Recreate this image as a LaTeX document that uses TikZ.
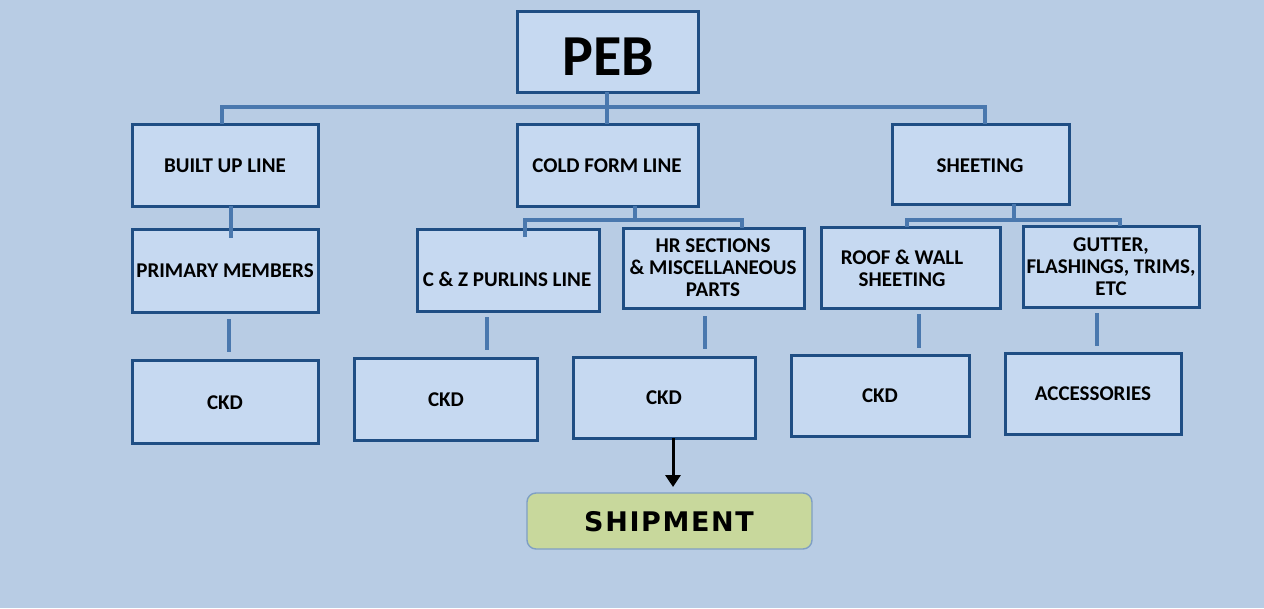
\documentclass[tikz,border=0pt]{standalone}
\usepackage{fontspec}
\setmainfont{Carlito}
\newfontfamily\shipfont{DejaVu Sans}
\usetikzlibrary{arrows.meta}
\definecolor{bgc}{HTML}{B8CCE4}
\definecolor{boxfill}{HTML}{C6D9F1}
\definecolor{boxdraw}{HTML}{1F4E84}
\definecolor{linec}{HTML}{4A78AE}
\definecolor{shipfill}{HTML}{C8D89C}
\definecolor{shipdraw}{HTML}{7F9FC4}
\tikzset{
  box/.style={draw=boxdraw, fill=boxfill, line width=3pt, rectangle, inner sep=0pt},
  txt/.style={font=\bfseries\fontsize{21}{22}\selectfont, align=center, text=black, inner sep=0pt},
  conn/.style={draw=linec, line width=3.1pt},
}
\begin{document}
\begin{tikzpicture}[x=1pt,y=-1pt]
\fill[bgc] (0,0) rectangle (1264,608);
\useasboundingbox (0,0) rectangle (1264,608);

% boxes (centre, width, height)
\node[box, minimum width=181pt, minimum height=81pt] (peb) at (607.5,51.5) {};
\node[font=\bfseries\fontsize{58}{62}\selectfont, inner sep=0pt] (pebt) at (608,57) {PEB};

\node[box, minimum width=186pt, minimum height=82pt] (bul) at (225,165) {};
\node[txt] (bult) at (225,166) {BUILT UP LINE};
\node[box, minimum width=181pt, minimum height=82pt] (cfl) at (607.5,165) {};
\node[txt] (cflt) at (607,166) {COLD FORM LINE};
\node[box, minimum width=177pt, minimum height=80pt] (sht) at (980.5,164) {};
\node[txt] (shtt) at (980,166) {SHEETING};

\node[box, minimum width=186pt, minimum height=83pt] (pm) at (225,270.5) {};
\node[txt] (pmt) at (225,271) {PRIMARY MEMBERS};
\node[box, minimum width=182pt, minimum height=82pt] (cz) at (508,270) {};
\node[txt] (czt) at (507,279) {C \& Z PURLINS LINE};
\node[box, minimum width=181pt, minimum height=80pt] (hr) at (713.5,268) {};
\node[txt] (hrt) at (713,268) {HR SECTIONS\\\& MISCELLANEOUS\\PARTS};
\node[box, minimum width=179pt, minimum height=81pt] (rw) at (910.5,267.5) {};
\node[txt] (rwt) at (902,268.5) {ROOF \& WALL\\SHEETING};
\node[box, minimum width=176pt, minimum height=81pt] (gt) at (1111,266.5) {};
\node[txt] (gtt) at (1111,267) {GUTTER,\\FLASHINGS, TRIMS,\\ETC};

\node[box, minimum width=186pt, minimum height=83pt] (c1) at (225,401.5) {};
\node[txt] (c1t) at (225,403) {CKD};
\node[box, minimum width=183pt, minimum height=82pt] (c2) at (445.5,399) {};
\node[txt] (c2t) at (446,400) {CKD};
\node[box, minimum width=182pt, minimum height=81pt] (c3) at (664,397.5) {};
\node[txt] (c3t) at (664,398) {CKD};
\node[box, minimum width=178pt, minimum height=81pt] (c4) at (880,395.5) {};
\node[txt] (c4t) at (880,396) {CKD};
\node[box, minimum width=176pt, minimum height=81pt] (c5) at (1093,393.5) {};
\node[txt] (c5t) at (1093,394) {ACCESSORIES};

\node[draw=shipdraw, fill=shipfill, line width=1.4pt, rounded corners=9pt,
      minimum width=285pt, minimum height=56pt, inner sep=0pt] (ship) at (669.5,521) {};
\node[font=\shipfont\bfseries\fontsize{27}{30}\selectfont, inner sep=0pt] (shipt) at (669,522) {\addfontfeature{LetterSpace=6}SHIPMENT};

% tree connectors
\coordinate (bar) at (607,107);
\draw[conn] (607,92) -- (bar);
\draw[conn] (222,124) |- (bar) -| (985,124);
\draw[conn] (bar) -- (607,124);

\draw[conn] (231,206) -- (231,238);

\coordinate (cfb) at (635,220);
\draw[conn] (635,206) -- (cfb);
\draw[conn] (525,237) |- (cfb) -| (742,228);

\coordinate (shb) at (1014,220);
\draw[conn] (1014,204) -- (shb);
\draw[conn] (907,227) |- (shb) -| (1120,226);

% short vertical segments above CKD boxes
\draw[conn] (229,319) -- (229,352);
\draw[conn] (487,317) -- (487,350);
\draw[conn] (705,316) -- (705,349);
\draw[conn] (919,314) -- (919,348);
\draw[conn] (1097,313) -- (1097,346);

% arrow to shipment
\draw[line width=3pt, -{Triangle[length=12pt,width=15pt]}] (673,438) -- (673,487);
\end{tikzpicture}
\end{document}
